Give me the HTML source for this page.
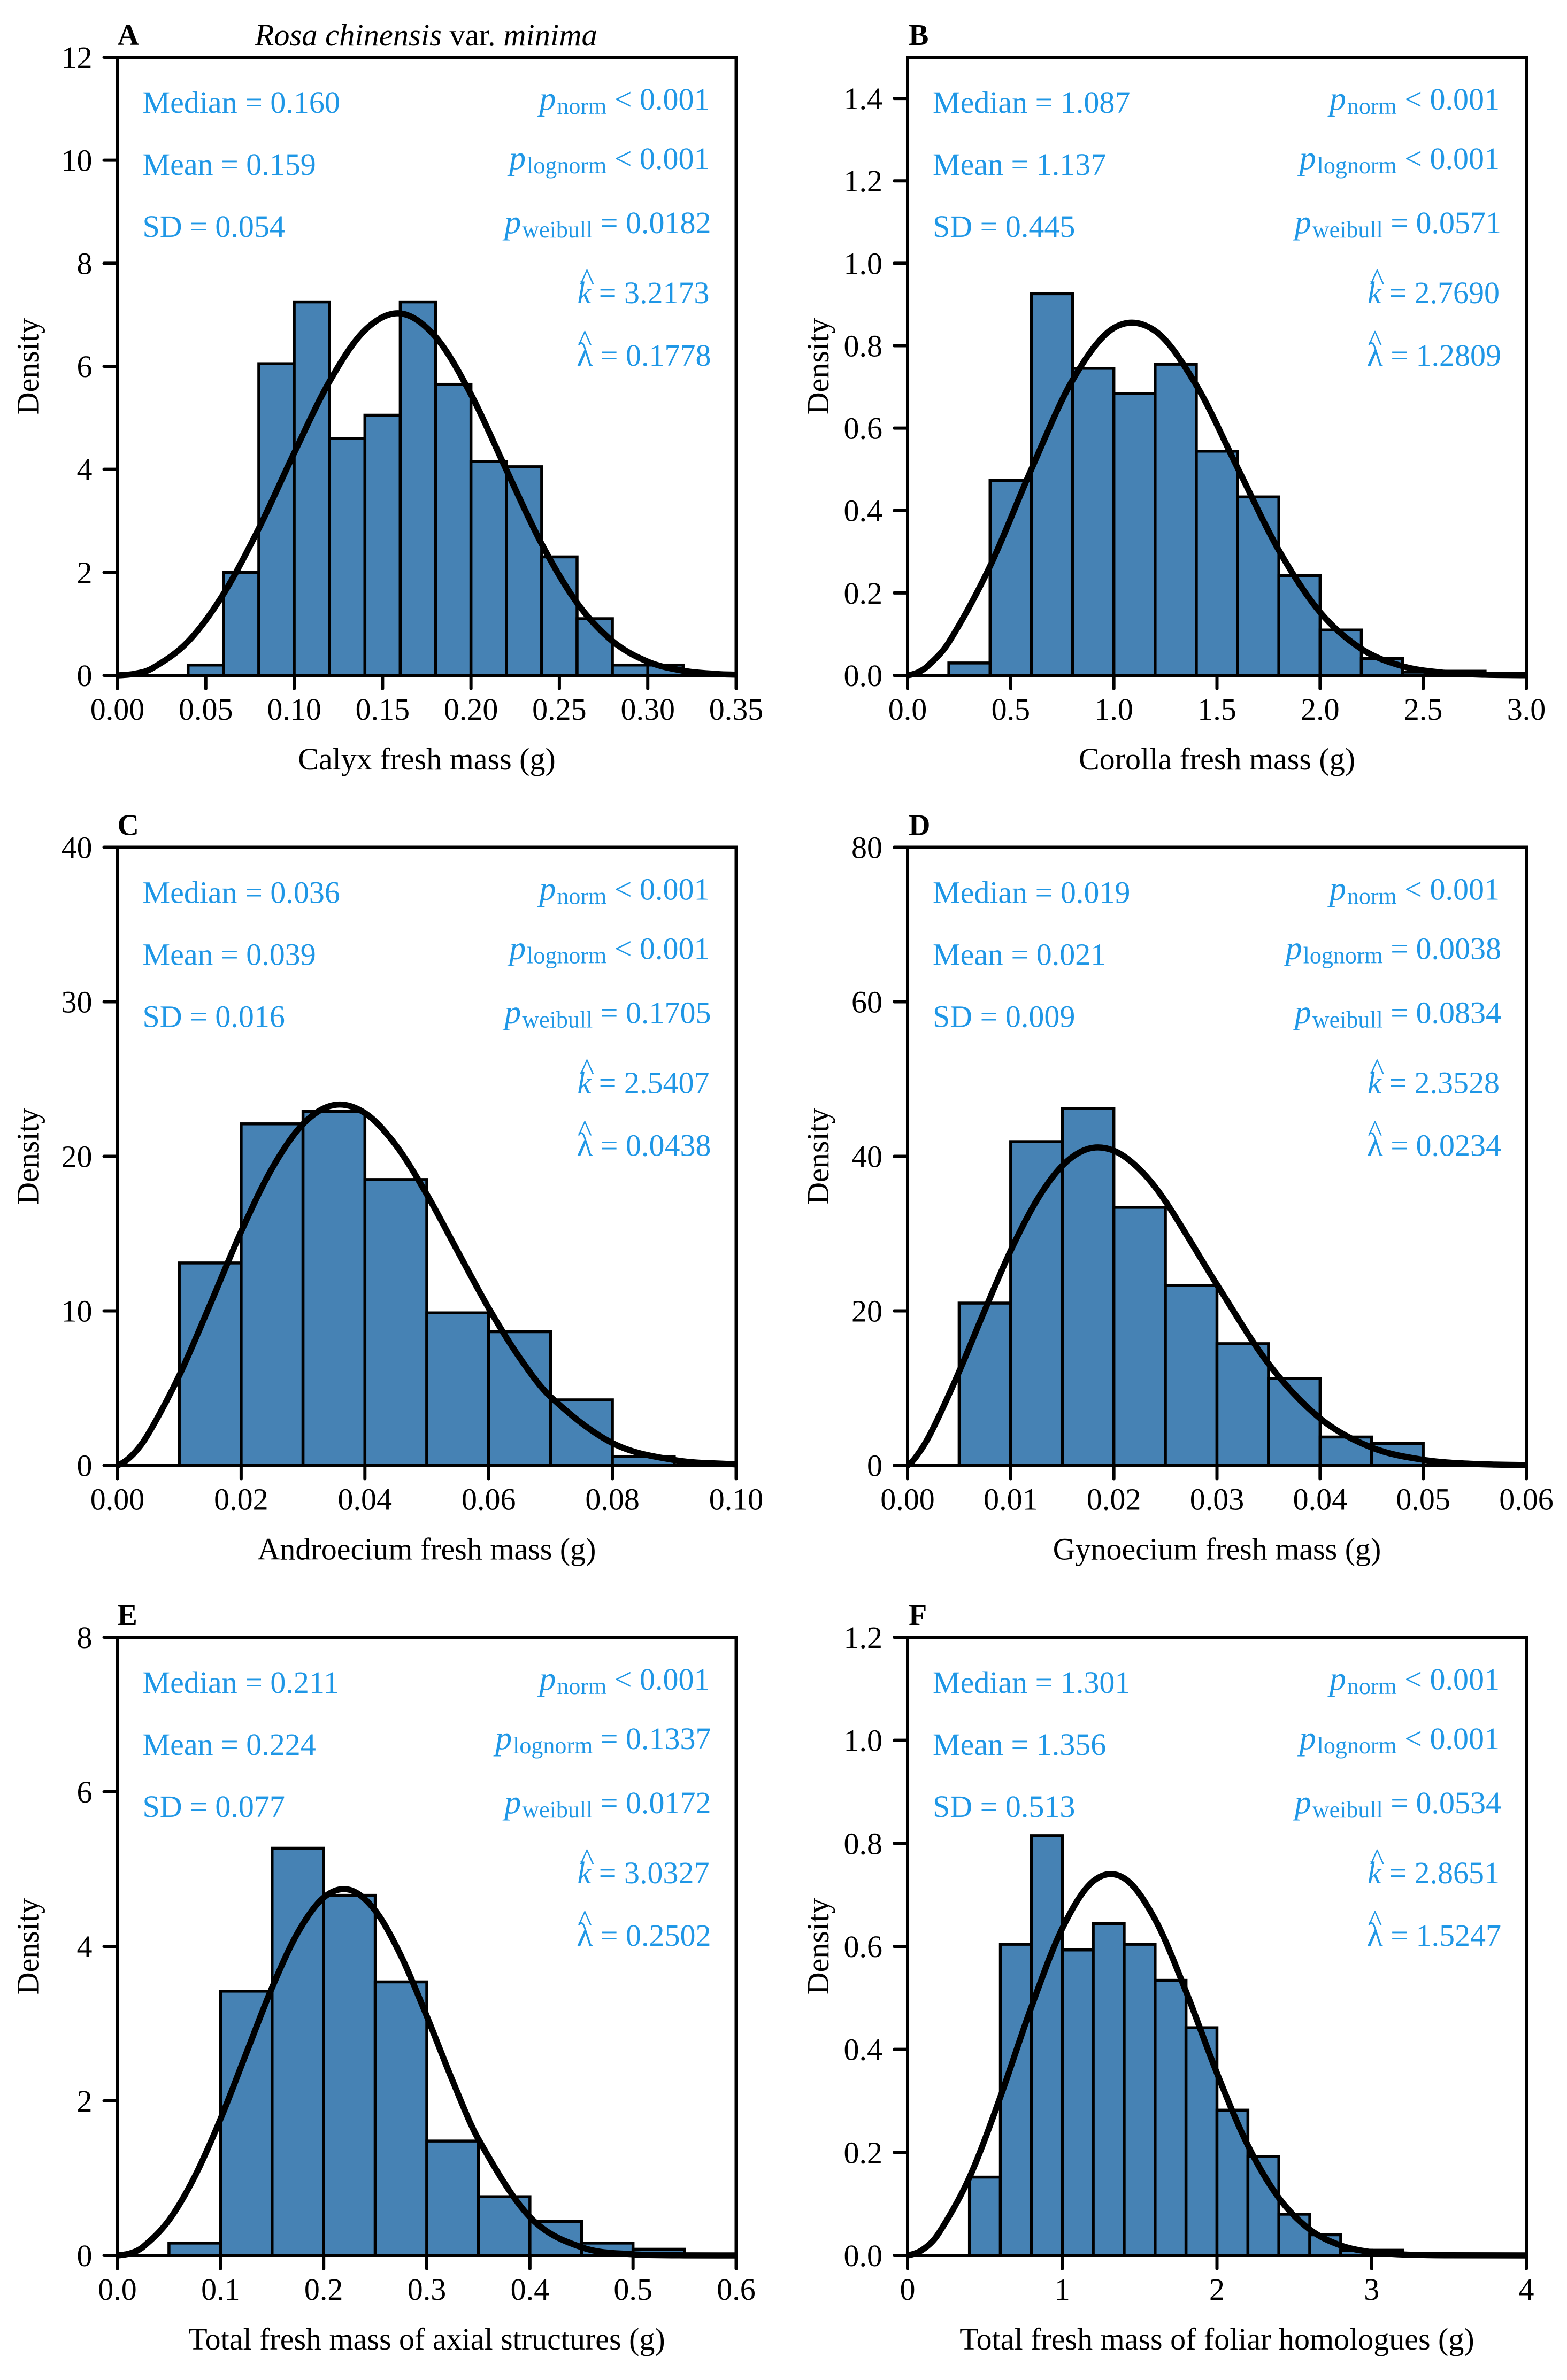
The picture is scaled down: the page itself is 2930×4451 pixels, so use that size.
<!DOCTYPE html>
<html lang="en">
<head>
<meta charset="utf-8">
<title>Rosa chinensis var. minima fresh mass distributions</title>
<style>
html,body{margin:0;padding:0;background:#fff;}
svg{display:block;}
text{font-family:"Liberation Serif","DejaVu Serif",serif;font-size:58px;fill:#000;}
.s text,text.s{fill:#1f97e6;}
.i{font-style:italic;}
.p{font-style:italic;font-size:62px;}
.sub{font-size:44px;}
.l{font-size:62px;}
.b{font-weight:bold;font-size:56px;}
.e{text-anchor:end;}
.m{text-anchor:middle;}
</style>
</head>
<body>
<svg id="figure" xmlns="http://www.w3.org/2000/svg" width="2930" height="4451" viewBox="0 0 2930 4451">
<rect width="2930" height="4451" fill="#fff"/>

<!-- Panel A -->
<g id="panel-a" transform="translate(219.5,107)">
  <g class="marks"></g>
  <text x="0" y="-23" class="b">A</text>
  <text x="257" y="-22" style="font-size:58.5px"><tspan class="i">Rosa chinensis</tspan> var. <tspan class="i">minima</tspan></text>
  <text x="578.5" y="1332" class="m">Calyx fresh mass (g)</text>
  <text transform="translate(-148,578) rotate(-90)" class="m">Density</text>
  <g class="s">
    <text x="47" y="104">Median = 0.160</text>
    <text x="47" y="220">Mean = 0.159</text>
    <text x="47" y="336">SD = 0.054</text>
    <text x="1107" y="98" class="e"><tspan class="p">p</tspan><tspan class="sub" dx="2" dy="8">norm</tspan><tspan dy="-8"> &lt; 0.001</tspan></text>
    <text x="1107" y="209" class="e"><tspan class="p">p</tspan><tspan class="sub" dx="2" dy="8">lognorm</tspan><tspan dy="-8"> &lt; 0.001</tspan></text>
    <text x="1110" y="329" class="e"><tspan class="p">p</tspan><tspan class="sub" dx="2" dy="8">weibull</tspan><tspan dy="-8"> = 0.0182</tspan></text>
    <text x="1107" y="460" class="e"><tspan class="i">k</tspan> = 3.2173</text>
    <text x="878" y="435" class="m">^</text>
    <text x="1110" y="577" class="e"><tspan class="l">λ</tspan> = 0.1778</text>
    <text x="874" y="550" class="m">^</text>
  </g>
</g>

<!-- Panel B -->
<g id="panel-b" transform="translate(1697,107)">
  <g class="marks"></g>
  <text x="2" y="-23" class="b">B</text>
  <text x="578.5" y="1332" class="m">Corolla fresh mass (g)</text>
  <text transform="translate(-148,578) rotate(-90)" class="m">Density</text>
  <g class="s">
    <text x="47" y="104">Median = 1.087</text>
    <text x="47" y="220">Mean = 1.137</text>
    <text x="47" y="336">SD = 0.445</text>
    <text x="1107" y="98" class="e"><tspan class="p">p</tspan><tspan class="sub" dx="2" dy="8">norm</tspan><tspan dy="-8"> &lt; 0.001</tspan></text>
    <text x="1107" y="209" class="e"><tspan class="p">p</tspan><tspan class="sub" dx="2" dy="8">lognorm</tspan><tspan dy="-8"> &lt; 0.001</tspan></text>
    <text x="1110" y="329" class="e"><tspan class="p">p</tspan><tspan class="sub" dx="2" dy="8">weibull</tspan><tspan dy="-8"> = 0.0571</tspan></text>
    <text x="1107" y="460" class="e"><tspan class="i">k</tspan> = 2.7690</text>
    <text x="878" y="435" class="m">^</text>
    <text x="1110" y="577" class="e"><tspan class="l">λ</tspan> = 1.2809</text>
    <text x="874" y="550" class="m">^</text>
  </g>
</g>

<!-- Panel C -->
<g id="panel-c" transform="translate(219.5,1584.5)">
  <g class="marks"></g>
  <text x="0" y="-23" class="b">C</text>
  <text x="578.5" y="1332" class="m">Androecium fresh mass (g)</text>
  <text transform="translate(-148,578) rotate(-90)" class="m">Density</text>
  <g class="s">
    <text x="47" y="104">Median = 0.036</text>
    <text x="47" y="220">Mean = 0.039</text>
    <text x="47" y="336">SD = 0.016</text>
    <text x="1107" y="98" class="e"><tspan class="p">p</tspan><tspan class="sub" dx="2" dy="8">norm</tspan><tspan dy="-8"> &lt; 0.001</tspan></text>
    <text x="1107" y="209" class="e"><tspan class="p">p</tspan><tspan class="sub" dx="2" dy="8">lognorm</tspan><tspan dy="-8"> &lt; 0.001</tspan></text>
    <text x="1110" y="329" class="e"><tspan class="p">p</tspan><tspan class="sub" dx="2" dy="8">weibull</tspan><tspan dy="-8"> = 0.1705</tspan></text>
    <text x="1107" y="460" class="e"><tspan class="i">k</tspan> = 2.5407</text>
    <text x="878" y="435" class="m">^</text>
    <text x="1110" y="577" class="e"><tspan class="l">λ</tspan> = 0.0438</text>
    <text x="874" y="550" class="m">^</text>
  </g>
</g>

<!-- Panel D -->
<g id="panel-d" transform="translate(1697,1584.5)">
  <g class="marks"></g>
  <text x="2" y="-23" class="b">D</text>
  <text x="578.5" y="1332" class="m">Gynoecium fresh mass (g)</text>
  <text transform="translate(-148,578) rotate(-90)" class="m">Density</text>
  <g class="s">
    <text x="47" y="104">Median = 0.019</text>
    <text x="47" y="220">Mean = 0.021</text>
    <text x="47" y="336">SD = 0.009</text>
    <text x="1107" y="98" class="e"><tspan class="p">p</tspan><tspan class="sub" dx="2" dy="8">norm</tspan><tspan dy="-8"> &lt; 0.001</tspan></text>
    <text x="1110" y="209" class="e"><tspan class="p">p</tspan><tspan class="sub" dx="2" dy="8">lognorm</tspan><tspan dy="-8"> = 0.0038</tspan></text>
    <text x="1110" y="329" class="e"><tspan class="p">p</tspan><tspan class="sub" dx="2" dy="8">weibull</tspan><tspan dy="-8"> = 0.0834</tspan></text>
    <text x="1107" y="460" class="e"><tspan class="i">k</tspan> = 2.3528</text>
    <text x="878" y="435" class="m">^</text>
    <text x="1110" y="577" class="e"><tspan class="l">λ</tspan> = 0.0234</text>
    <text x="874" y="550" class="m">^</text>
  </g>
</g>

<!-- Panel E -->
<g id="panel-e" transform="translate(219.5,3062)">
  <g class="marks"></g>
  <text x="0" y="-23" class="b">E</text>
  <text x="578.5" y="1332" class="m">Total fresh mass of axial structures (g)</text>
  <text transform="translate(-148,578) rotate(-90)" class="m">Density</text>
  <g class="s">
    <text x="47" y="104">Median = 0.211</text>
    <text x="47" y="220">Mean = 0.224</text>
    <text x="47" y="336">SD = 0.077</text>
    <text x="1107" y="98" class="e"><tspan class="p">p</tspan><tspan class="sub" dx="2" dy="8">norm</tspan><tspan dy="-8"> &lt; 0.001</tspan></text>
    <text x="1110" y="209" class="e"><tspan class="p">p</tspan><tspan class="sub" dx="2" dy="8">lognorm</tspan><tspan dy="-8"> = 0.1337</tspan></text>
    <text x="1110" y="329" class="e"><tspan class="p">p</tspan><tspan class="sub" dx="2" dy="8">weibull</tspan><tspan dy="-8"> = 0.0172</tspan></text>
    <text x="1107" y="460" class="e"><tspan class="i">k</tspan> = 3.0327</text>
    <text x="878" y="435" class="m">^</text>
    <text x="1110" y="577" class="e"><tspan class="l">λ</tspan> = 0.2502</text>
    <text x="874" y="550" class="m">^</text>
  </g>
</g>

<!-- Panel F -->
<g id="panel-f" transform="translate(1697,3062)">
  <g class="marks"></g>
  <text x="2" y="-23" class="b">F</text>
  <text x="578.5" y="1332" class="m">Total fresh mass of foliar homologues (g)</text>
  <text transform="translate(-148,578) rotate(-90)" class="m">Density</text>
  <g class="s">
    <text x="47" y="104">Median = 1.301</text>
    <text x="47" y="220">Mean = 1.356</text>
    <text x="47" y="336">SD = 0.513</text>
    <text x="1107" y="98" class="e"><tspan class="p">p</tspan><tspan class="sub" dx="2" dy="8">norm</tspan><tspan dy="-8"> &lt; 0.001</tspan></text>
    <text x="1107" y="209" class="e"><tspan class="p">p</tspan><tspan class="sub" dx="2" dy="8">lognorm</tspan><tspan dy="-8"> &lt; 0.001</tspan></text>
    <text x="1110" y="329" class="e"><tspan class="p">p</tspan><tspan class="sub" dx="2" dy="8">weibull</tspan><tspan dy="-8"> = 0.0534</tspan></text>
    <text x="1107" y="460" class="e"><tspan class="i">k</tspan> = 2.8651</text>
    <text x="878" y="435" class="m">^</text>
    <text x="1110" y="577" class="e"><tspan class="l">λ</tspan> = 1.5247</text>
    <text x="874" y="550" class="m">^</text>
  </g>
</g>
</svg>

<script>
// Panel A: calyx
const calyxBinEdges = [0.04,0.06,0.08,0.10,0.12,0.14,0.16,0.18,0.20,0.22,0.24,0.26,0.28,0.30,0.32];
const calyxDensity = [0.2,2.0,6.05,7.25,4.6,5.05,7.25,5.65,4.15,4.05,2.3,1.1,0.2,0.2];
const calyxCurveX = [0,0.01,0.02,0.04,0.06,0.08,0.10,0.12,0.14,0.16,0.18,0.20,0.22,0.24,0.26,0.28,0.30,0.32,0.34,0.35];
const calyxCurveY = [0,0.031,0.142,0.657,1.58,2.853,4.317,5.707,6.70,7.026,6.57,5.455,3.99,2.55,1.407,0.665,0.266,0.089,0.024,0.012];
const calyxXTicks = [0,0.05,0.10,0.15,0.20,0.25,0.30,0.35];
const calyxXLabels = ['0.00','0.05','0.10','0.15','0.20','0.25','0.30','0.35'];
const calyxYTicks = [0,2,4,6,8,10,12];
const calyxYLabels = ['0','2','4','6','8','10','12'];

// Panel B: corolla
const corollaBinEdges = [0.2,0.4,0.6,0.8,1.0,1.2,1.4,1.6,1.8,2.0,2.2,2.4,2.6,2.8];
const corollaDensity = [0.03,0.473,0.926,0.745,0.684,0.755,0.544,0.433,0.242,0.11,0.041,0.008,0.01];
const corollaCurveX = [0,0.05,0.1,0.2,0.4,0.6,0.8,1.0,1.2,1.4,1.6,1.8,2.0,2.2,2.4,2.6,2.8,3.0];
const corollaCurveY = [0,0.007,0.0237,0.0804,0.2651,0.5,0.7165,0.843,0.836,0.704,0.5034,0.3035,0.1532,0.0643,0.0222,0.0063,0.0014,0.0003];
const corollaXTicks = [0,0.5,1.0,1.5,2.0,2.5,3.0];
const corollaXLabels = ['0.0','0.5','1.0','1.5','2.0','2.5','3.0'];
const corollaYTicks = [0,0.2,0.4,0.6,0.8,1.0,1.2,1.4];
const corollaYLabels = ['0.0','0.2','0.4','0.6','0.8','1.0','1.2','1.4'];

// Panel C: androecium
const androeciumBinEdges = [0.01,0.02,0.03,0.04,0.05,0.06,0.07,0.08,0.09];
const androeciumDensity = [13.1,22.1,22.9,18.5,9.87,8.65,4.24,0.58];
const androeciumCurveX = [0,0.0025,0.005,0.01,0.015,0.02,0.025,0.03,0.035,0.04,0.045,0.05,0.055,0.06,0.065,0.07,0.08,0.09,0.10];
const androeciumCurveY = [0,0.70,2.039,5.82,10.42,15.13,19.22,22.09,23.32,22.8,20.72,17.54,13.85,10.18,6.97,4.44,1.444,0.347,0.06];
const androeciumXTicks = [0,0.02,0.04,0.06,0.08,0.10];
const androeciumXLabels = ['0.00','0.02','0.04','0.06','0.08','0.10'];
const androeciumYTicks = [0,10,20,30,40];
const androeciumYLabels = ['0','10','20','30','40'];

// Panel D: gynoecium
const gynoeciumBinEdges = [0.005,0.01,0.015,0.02,0.025,0.03,0.035,0.04,0.045,0.05];
const gynoeciumDensity = [21,41.9,46.2,33.4,23.3,15.75,11.25,3.67,2.83];
const gynoeciumCurveX = [0,0.00125,0.0025,0.005,0.0075,0.01,0.0125,0.015,0.0175,0.02,0.0225,0.025,0.03,0.035,0.04,0.045,0.05,0.055,0.06];
const gynoeciumCurveY = [0,1.91,4.856,12.14,20.13,27.8,34.24,38.78,40.97,40.73,38.31,34.18,23.39,13.16,6.08,2.31,0.72,0.18,0.04];
const gynoeciumXTicks = [0,0.01,0.02,0.03,0.04,0.05,0.06];
const gynoeciumXLabels = ['0.00','0.01','0.02','0.03','0.04','0.05','0.06'];
const gynoeciumYTicks = [0,20,40,60,80];
const gynoeciumYLabels = ['0','20','40','60','80'];

// Panel E: axial structures
const axialBinEdges = [0.05,0.10,0.15,0.20,0.25,0.30,0.35,0.40,0.45,0.50,0.55];
const axialDensity = [0.16,3.42,5.27,4.66,3.54,1.48,0.76,0.44,0.16,0.08];
const axialCurveX = [0,0.0125,0.025,0.05,0.075,0.10,0.125,0.15,0.175,0.20,0.225,0.25,0.275,0.30,0.325,0.35,0.40,0.45,0.50,0.55,0.60];
const axialCurveY = [0,0.027,0.112,0.4557,1.0206,1.766,2.618,3.466,4.179,4.631,4.732,4.463,3.877,3.096,2.261,1.506,0.496,0.106,0.014,0.001,0];
const axialXTicks = [0,0.1,0.2,0.3,0.4,0.5,0.6];
const axialXLabels = ['0.0','0.1','0.2','0.3','0.4','0.5','0.6'];
const axialYTicks = [0,2,4,6,8];
const axialYLabels = ['0','2','4','6','8'];

// Panel F: foliar homologues
const foliarBinEdges = [0.4,0.6,0.8,1.0,1.2,1.4,1.6,1.8,2.0,2.2,2.4,2.6,2.8,3.0,3.2];
const foliarDensity = [0.152,0.604,0.815,0.593,0.644,0.604,0.534,0.442,0.282,0.192,0.08,0.04,0.01,0.01];
const foliarCurveX = [0,0.1,0.2,0.4,0.6,0.8,1.0,1.2,1.4,1.6,1.8,2.0,2.2,2.4,2.6,2.8,3.0,3.2,3.5,4.0];
const foliarCurveY = [0,0.0117,0.0424,0.1515,0.3079,0.482,0.6348,0.7265,0.7323,0.6522,0.5124,0.3538,0.2134,0.1117,0.0503,0.0194,0.0064,0.0018,0.0002,0];
const foliarXTicks = [0,1,2,3,4];
const foliarXLabels = ['0','1','2','3','4'];
const foliarYTicks = [0,0.2,0.4,0.6,0.8,1.0,1.2];
const foliarYLabels = ['0.0','0.2','0.4','0.6','0.8','1.0','1.2'];

const NS = 'http://www.w3.org/2000/svg';
const W = 1157, H = 1156;

function make(tag, parent, attrs) {
  const el = document.createElementNS(NS, tag);
  for (const k in attrs) el.setAttribute(k, attrs[k]);
  parent.appendChild(el);
  return el;
}

// Cubic Hermite through the read points, with tangents that respect uneven spacing.
function smoothPath(xs, ys, sx, sy) {
  const px = xs.map(sx), py = ys.map(sy);
  const n = px.length;
  const slope = i => {
    if (i === 0) return 0.5 * (py[1] - py[0]) / (px[1] - px[0]);
    if (i === n - 1) return (py[n - 1] - py[n - 2]) / (px[n - 1] - px[n - 2]);
    return (py[i + 1] - py[i - 1]) / (px[i + 1] - px[i - 1]);
  };
  let d = 'M' + px[0].toFixed(2) + ' ' + py[0].toFixed(2);
  for (let i = 0; i < n - 1; i++) {
    const h = px[i + 1] - px[i];
    const c1x = px[i] + h / 3, c1y = Math.min(py[i] + slope(i) * h / 3, H);
    const c2x = px[i + 1] - h / 3, c2y = Math.min(py[i + 1] - slope(i + 1) * h / 3, H);
    d += 'C' + c1x.toFixed(2) + ' ' + c1y.toFixed(2) + ' ' + c2x.toFixed(2) + ' ' + c2y.toFixed(2) + ' ' + px[i + 1].toFixed(2) + ' ' + py[i + 1].toFixed(2);
  }
  return d;
}

function drawPanel(id, xMax, yMax, edges, density, curveX, curveY, xTicks, xLabels, yTicks, yLabels) {
  const root = document.querySelector('#' + id + ' .marks');
  const sx = v => v / xMax * W;
  const sy = v => H - v / yMax * H;

  density.forEach((v, i) => {
    const bar = make('rect', root, {
      x: sx(edges[i]), y: sy(v), width: sx(edges[i + 1]) - sx(edges[i]), height: H - sy(v),
      fill: '#4682b4', stroke: '#000', 'stroke-width': 5.5
    });
    
    
  });

  const curve = make('path', root, {
    d: smoothPath(curveX, curveY, sx, sy), fill: 'none', stroke: '#000',
    'stroke-width': 11.5, 'stroke-linejoin': 'round'
  });
  
  

  const frame = make('rect', root, {
    x: 0, y: 0, width: W, height: H, fill: 'none', stroke: '#000', 'stroke-width': 6
  });
  
  

  xTicks.forEach((v, i) => {
    const tick = make('line', root, {
      x1: sx(v), x2: sx(v), y1: H, y2: H + 25, stroke: '#000', 'stroke-width': 6, 'stroke-linecap': 'round'
    });
    
    
    const label = make('text', root, { x: sx(v), y: H + 83, class: 'm' });
    
    
    label.textContent = xLabels[i];
  });

  yTicks.forEach((v, i) => {
    const tick = make('line', root, {
      x1: -25, x2: 0, y1: sy(v), y2: sy(v), stroke: '#000', 'stroke-width': 6, 'stroke-linecap': 'round'
    });
    
    
    const label = make('text', root, { x: -47, y: sy(v) + 20, class: 'e' });
    
    
    label.textContent = yLabels[i];
  });
}

drawPanel('panel-a', 0.35, 12, calyxBinEdges, calyxDensity, calyxCurveX, calyxCurveY, calyxXTicks, calyxXLabels, calyxYTicks, calyxYLabels);
drawPanel('panel-b', 3.0, 1.5, corollaBinEdges, corollaDensity, corollaCurveX, corollaCurveY, corollaXTicks, corollaXLabels, corollaYTicks, corollaYLabels);
drawPanel('panel-c', 0.10, 40, androeciumBinEdges, androeciumDensity, androeciumCurveX, androeciumCurveY, androeciumXTicks, androeciumXLabels, androeciumYTicks, androeciumYLabels);
drawPanel('panel-d', 0.06, 80, gynoeciumBinEdges, gynoeciumDensity, gynoeciumCurveX, gynoeciumCurveY, gynoeciumXTicks, gynoeciumXLabels, gynoeciumYTicks, gynoeciumYLabels);
drawPanel('panel-e', 0.6, 8, axialBinEdges, axialDensity, axialCurveX, axialCurveY, axialXTicks, axialXLabels, axialYTicks, axialYLabels);
drawPanel('panel-f', 4, 1.2, foliarBinEdges, foliarDensity, foliarCurveX, foliarCurveY, foliarXTicks, foliarXLabels, foliarYTicks, foliarYLabels);
</script>
</body>
</html>
